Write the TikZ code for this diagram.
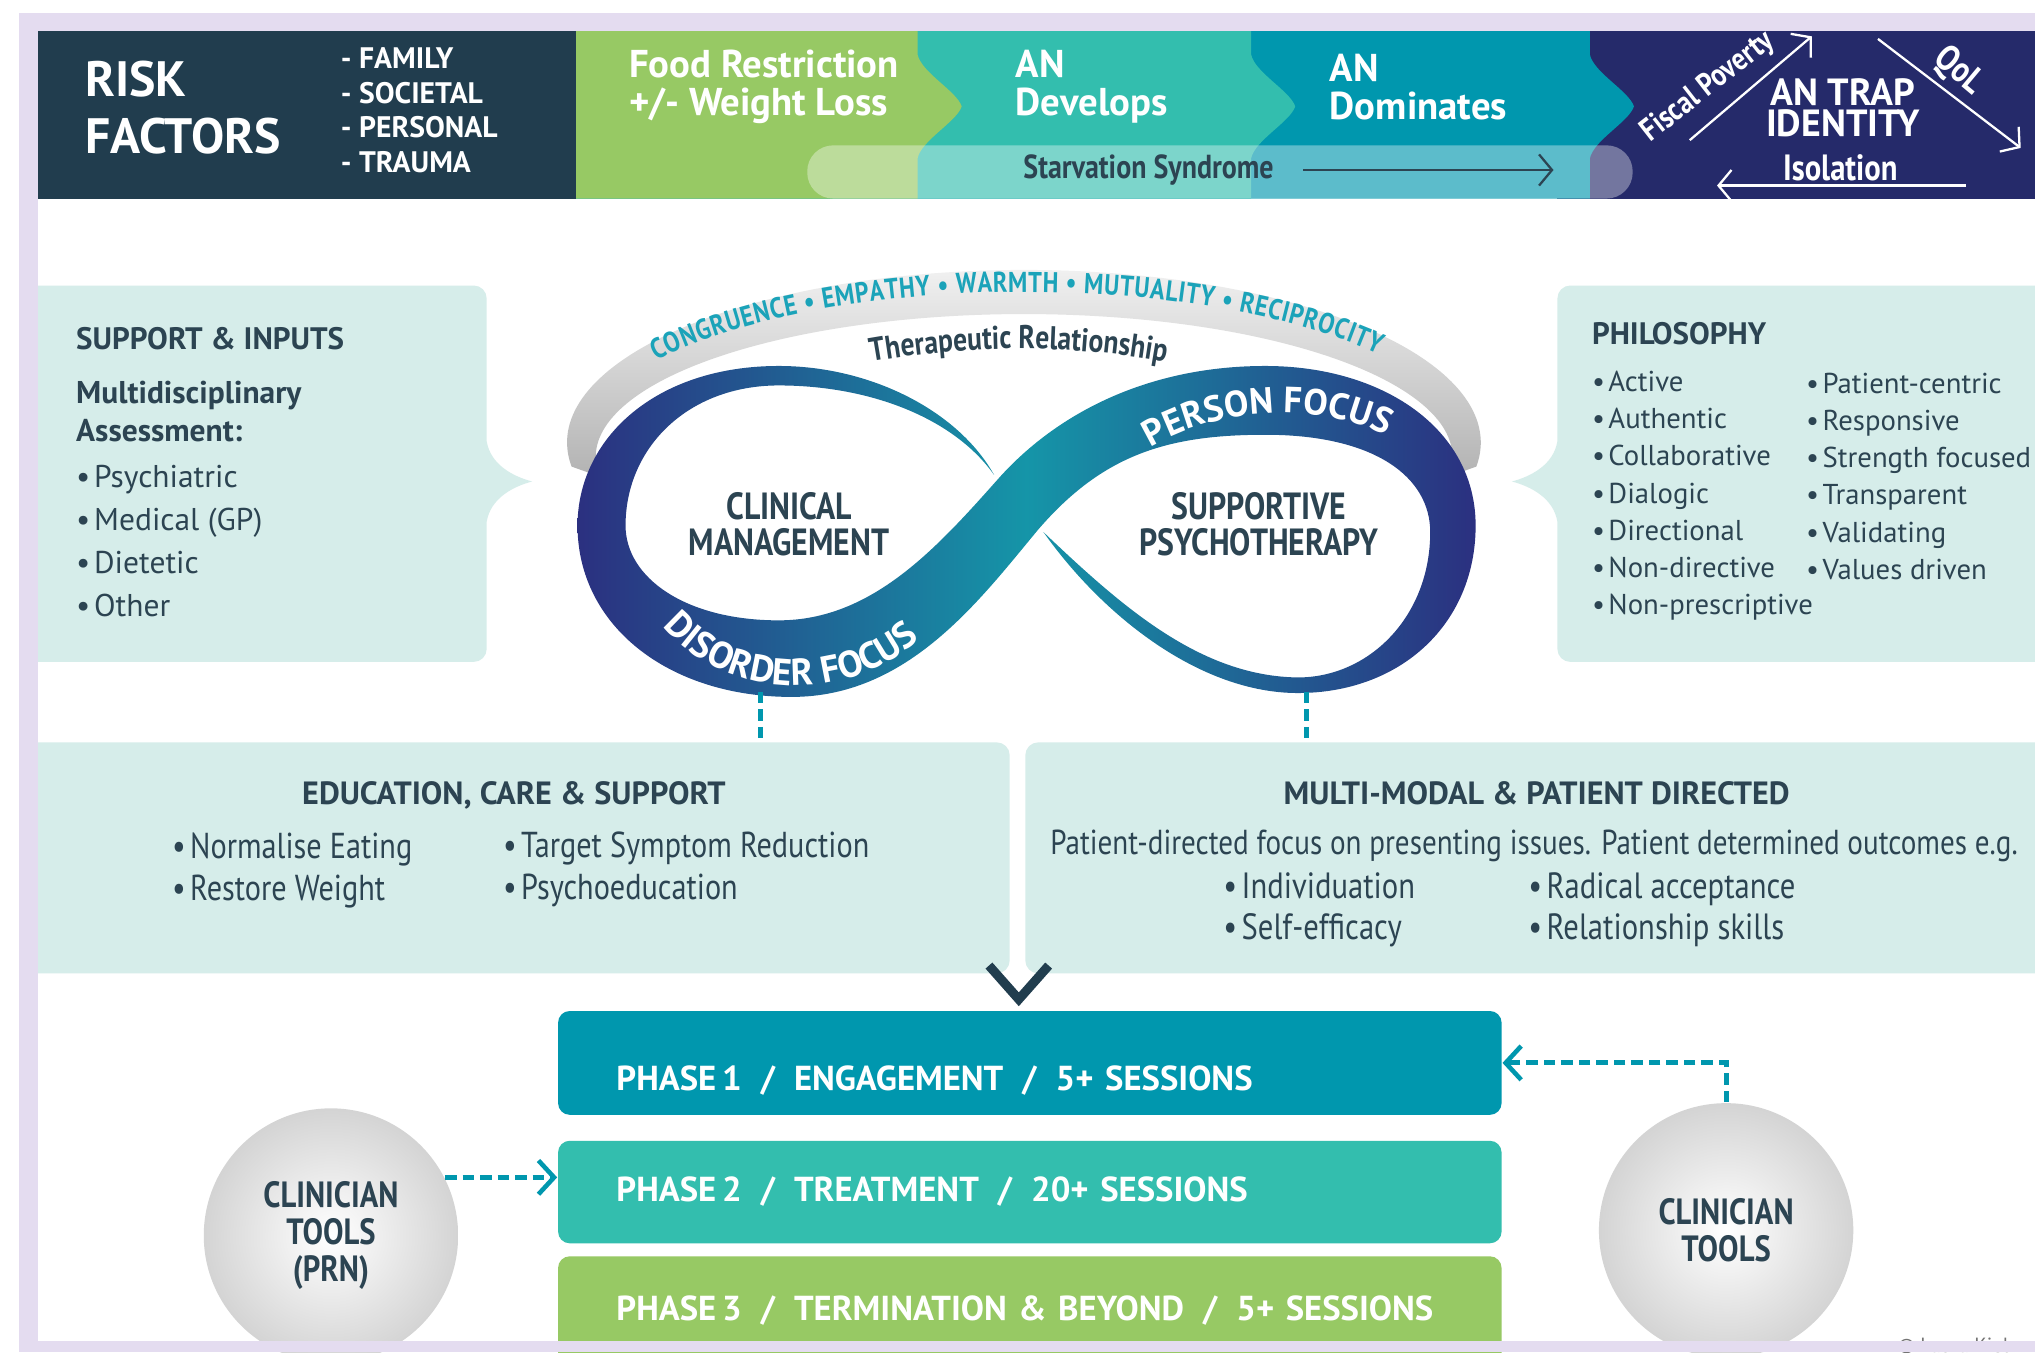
\documentclass[tikz,border=0pt]{standalone}
\usepackage{fontspec}
\setmainfont{PT Sans}
\newfontfamily\condfont[FakeStretch=0.84]{PT Sans}
\usetikzlibrary{arrows.meta,positioning,decorations.text}
\definecolor{FrameLilac}{HTML}{E4DCF0}
\definecolor{RiskNavy}{HTML}{213D4E}
\definecolor{StageGreen}{HTML}{97C964}
\definecolor{StageTeal}{HTML}{33BEAE}
\definecolor{StageCyan}{HTML}{0097AE}
\definecolor{TrapNavy}{HTML}{252A6A}
\definecolor{BoxMint}{HTML}{D6EDEA}
\definecolor{InkDark}{HTML}{2C4452}
\definecolor{ArcTeal}{HTML}{1BA3B9}
\definecolor{LoopNavy}{HTML}{2B3080}
\definecolor{LoopTeal}{HTML}{1595A8}
\newcommand{\fsz}[2]{\fontsize{#1}{#2}\selectfont}
\newcommand{\itm}{\textbullet\hspace{0.12em}}
\newcommand{\sep}{\hspace{0.55em}/\hspace{0.55em}}

\begin{document}
\begin{tikzpicture}[
  x=0.1mm, y=-0.1mm,
  bandtext/.style={text=white, font=\bfseries\fsz{8.5}{8.25}, align=left, anchor=west, inner sep=0pt},
  boxhead/.style={text=InkDark, font=\bfseries\fsz{6.8}{8}, anchor=west, inner sep=0pt},
  boxlist/.style={text=InkDark, align=left, anchor=west, inner sep=0pt},
  mintbox/.style={rectangle, fill=BoxMint, rounded corners=1mm, inner sep=0pt},
  phasebar/.style={rectangle, rounded corners=0.9mm, minimum height=8mm, text width=63.7mm, inner xsep=4.5mm, align=left, text=white, font=\bfseries\fsz{7.6}{9}},
  toolball/.style={circle, minimum size=19.6mm, inner color=white, outer color=black!17, text=InkDark, align=center, font=\condfont\bfseries\fsz{8}{8.1}},
  loopcap/.style={text=InkDark, align=center, inner sep=0pt, font=\condfont\bfseries\fsz{8.3}{8}},
  panelhead/.style={text=InkDark, font=\bfseries\fsz{7.05}{8}, inner sep=0pt},
  barb/.style={-{Straight Barb[length=1mm,width=2.4mm]}},
  tealdash/.style={StageCyan, line width=1.1pt, dash pattern=on 0.9mm off 0.45mm},
  dasharrow/.style={tealdash, -{Straight Barb[length=1.2mm,width=2.6mm,line width=1pt]}}
]
\useasboundingbox (0,0) rectangle (1568,1042);
\fill[white] (0,0) rectangle (1568,1042);

% stage bands, right to left so each chevron lies over the next colour
\fill[TrapNavy] (1200,24) rectangle (1568,153);
\foreach \xr/\col in {1225/StageCyan,964/StageTeal,707/StageGreen}
  \fill[\col] (430,24) -- (\xr,24) -- (\xr,42)
    .. controls (\xr+3,56) and (\xr+30,70) .. (\xr+34,82)
    .. controls (\xr+30,94) and (\xr+3,108) .. (\xr,122) -- (\xr,153) -- (430,153) -- cycle;
\fill[RiskNavy] (29,24) rectangle (444,153);
\fill[white, opacity=0.36, rounded corners=2mm] (622,112) rectangle (1258,153);

\node[bandtext, font=\bfseries\fsz{10.9}{12.5}] (risk) at (65,83) {RISK\\FACTORS};
\node[bandtext, font=\bfseries\fsz{6.5}{7.55}] (riskitems) at (262,85) {- FAMILY\\- SOCIETAL\\- PERSONAL\\- TRAUMA};
\node[bandtext] (food) at (484,67) {Food Restriction\\+/- Weight Loss};
\node[bandtext] (develops) at (782,67) {AN\\Develops};
\node[bandtext] (dominates) at (1024,67) {AN\\Dominates};
\node[text=InkDark, font=\condfont\bfseries\fsz{7.3}{8}, inner sep=0pt] (starve) at (885,131) {Starvation Syndrome};
\coordinate (starvetip) at (1197,131);
\draw[barb, InkDark, line width=0.5pt] ([xshift=2.2mm]starve.east) -- (starvetip);

% the AN trap triangle
\node[bandtext, align=center, anchor=center, font=\bfseries\fsz{8.3}{6.9}] (trap) at (1420,83) {AN TRAP\\IDENTITY};
\node[text=white, font=\condfont\bfseries\fsz{8}{8}, inner sep=0pt] (isolation) at (1418,129) {Isolation};
\node[text=white, font=\condfont\bfseries\fsz{7}{8}, rotate=38, inner sep=0pt] (poverty) at (1316,67) {Fiscal Poverty};
\node[text=white, font=\condfont\bfseries\fsz{8}{8}, rotate=-40, inner sep=0pt] (qol) at (1509,55) {QoL};
\coordinate (povfoot) at (1302,108);
\coordinate (povtip) at (1396,28);
\coordinate (qolfoot) at (1447,30);
\coordinate (qoltip) at (1557,114);
\coordinate (isofoot) at (1515,143);
\coordinate (isotip) at (1323,143);
\draw[barb, white, line width=0.5pt] (povfoot) -- (povtip);
\draw[barb, white, line width=0.5pt] (qolfoot) -- (qoltip);
\draw[barb, white, line width=0.5pt] (isofoot) -- (isotip);

% side panels with pointers
\fill[BoxMint] (15,220) [rounded corners=1mm] -- (375,220) -- (375,300) [sharp corners] -- (375,340)
  .. controls (378,358) and (395,367) .. (410,371) .. controls (395,375) and (378,384) .. (375,402)
  [rounded corners=1mm] -- (375,510) -- (15,510) [sharp corners] -- cycle;
\fill[BoxMint] (1590,220) [rounded corners=1mm] -- (1200,220) -- (1200,300) [sharp corners] -- (1200,340)
  .. controls (1197,358) and (1180,367) .. (1165,371) .. controls (1180,375) and (1197,384) .. (1200,402)
  [rounded corners=1mm] -- (1200,510) -- (1590,510) [sharp corners] -- cycle;

\node[boxhead] (suptitle) at (58,261) {SUPPORT \& INPUTS};
\node[boxlist, font=\bfseries\fsz{6.9}{8.25}] (supsub) at (58,317) {Multidisciplinary\\Assessment:};
\node[boxlist, font=\fsz{6.9}{9.4}] (supitems) at (58,417) {\itm Psychiatric\\\itm Medical (GP)\\\itm Dietetic\\\itm Other};

\node[boxhead] (philtitle) at (1226,257) {PHILOSOPHY};
\node[boxlist, font=\fsz{6.3}{8.17}] (philA) at (1226,382) {\itm Active\\\itm Authentic\\\itm Collaborative\\\itm Dialogic\\\itm Directional\\\itm Non-directive\\\itm Non-prescriptive};
\node[boxlist, font=\fsz{6.3}{8.17}] (philB) at (1391,367) {\itm Patient-centric\\\itm Responsive\\\itm Strength focused\\\itm Transparent\\\itm Validating\\\itm Values driven};

% therapeutic relationship arch
\shade[top color=black!5, bottom color=black!30]
  (440.4,359.5) arc[start angle=188, end angle=-8, x radius=35.2mm, y radius=13.3mm]
  -- (1115.8,367.3) arc[start angle=-8, end angle=188, x radius=33mm, y radius=11mm] -- cycle;
\path[decorate, decoration={text along path, text align=fit to path, text color=ArcTeal,
  text={|\condfont\bfseries\fsz{6.3}{6}|CONGRUENCE • EMPATHY • WARMTH • MUTUALITY • RECIPROCITY}}]
  (505.5,278) arc[start angle=146, end angle=37, x radius=34.2mm, y radius=12mm];
\path[decorate, decoration={text along path, text align=center, text color=InkDark,
  text={|\condfont\bfseries\fsz{7.2}{7}|Therapeutic Relationship}}]
  (650,283) .. controls (740,264) and (830,264) .. (920,283);

% infinity ribbon
\shade[left color=LoopNavy, right color=LoopNavy, middle color=LoopTeal]
  (766,366) .. controls (738,316) and (670,282) .. (600,282)
  .. controls (505,282) and (445,338) .. (445,405)
  .. controls (445,482) and (515,537) .. (610,537)
  .. controls (700,537) and (755,462) .. (800,408)
  .. controls (850,350) and (900,335) .. (975,335)
  .. controls (1060,335) and (1102,368) .. (1102,410)
  .. controls (1102,475) and (1055,522) .. (1000,522)
  .. controls (925,521) and (865,468) .. (804,410)
  .. controls (850,475) and (925,534) .. (1000,534)
  .. controls (1080,534) and (1137,480) .. (1137,405)
  .. controls (1137,330) and (1065,282) .. (975,282)
  .. controls (885,282) and (815,318) .. (770,368)
  .. controls (722,422) and (672,478) .. (600,478)
  .. controls (528,478) and (482,445) .. (482,405)
  .. controls (482,345) and (530,297) .. (600,297)
  .. controls (670,297) and (735,322) .. (766,366) -- cycle;
\path[decorate, decoration={text along path, text align=center, text color=white,
  text={|\bfseries\fsz{8.2}{8}|DISORDER FOCUS}}]
  (480,425) .. controls (515,555) and (690,565) .. (748,440);
\path[decorate, decoration={text along path, text align=center, text color=white,
  text={|\bfseries\fsz{8}{8}|PERSON FOCUS}}]
  (860,365) .. controls (920,307) and (1040,302) .. (1095,355);
\node[loopcap] (clinical) at (608,404) {CLINICAL\\MANAGEMENT};
\node[loopcap] (supportive) at (970,404) {SUPPORTIVE\\PSYCHOTHERAPY};
\coordinate (disfoot) at (586,533);
\coordinate (perfoot) at (1007,533);

% lower panels
\node[mintbox, minimum width=76.3mm, minimum height=17.8mm] (edu) at (396.5,661) {};
\node[mintbox, minimum width=80mm, minimum height=17.8mm] (multi) at (1190,661) {};
\draw[tealdash] (disfoot) -- (disfoot |- edu.north);
\draw[tealdash] (perfoot) -- (perfoot |- multi.north);

\node[panelhead] (edutitle) at (396,613) {EDUCATION, CARE \& SUPPORT};
\node[boxlist, font=\condfont\fsz{7.9}{9.25}] (eduA) at (132,671) {\itm Normalise Eating\\\itm Restore Weight};
\node[boxlist, font=\condfont\fsz{7.9}{9.25}] (eduB) at (387,670) {\itm Target Symptom Reduction\\\itm Psychoeducation};

\node[panelhead] (multititle) at (1184,611) {MULTI-MODAL \& PATIENT DIRECTED};
\node[text=InkDark, font=\condfont\fsz{7.6}{8}, inner sep=0pt] (multitext) at (1182,652) {Patient-directed focus on presenting issues. Patient determined outcomes e.g.};
\node[boxlist, font=\condfont\fsz{8}{9.1}] (multiA) at (942,701) {\itm Individuation\\\itm Self-efficacy};
\node[boxlist, font=\condfont\fsz{8}{9.1}] (multiB) at (1177,701) {\itm Radical acceptance\\\itm Relationship skills};

\draw[RiskNavy, line width=2pt] (762,744) -- (785,770) -- (808,744);

% phases and clinician tools
\node[phasebar, fill=StageCyan] (phase1) at (793.5,819) {\raisebox{-1.2mm}[5.4pt][0pt]{PHASE\,1\sep ENGAGEMENT\sep 5+ SESSIONS}};
\node[phasebar, fill=StageTeal, minimum height=7.9mm] (phase2) at (793.5,918.5) {PHASE\,2\sep TREATMENT\sep 20+ SESSIONS};
\node[phasebar, fill=StageGreen, minimum height=8.4mm] (phase3) at (793.5,1010) {PHASE\,3\sep TERMINATION \& BEYOND\sep 5+ SESSIONS};

\node[toolball] (toolsprn) at (255,952) {CLINICIAN\\TOOLS\\(PRN)};
\node[toolball] (tools) at (1330,948) {CLINICIAN\\TOOLS};
\draw[dasharrow] (toolsprn.27) -- (toolsprn.27 -| phase2.west);
\draw[dasharrow] (tools.north) |- (phase1.east);

\node[text=black!55, font=\fsz{4.5}{5}, anchor=west, inner sep=0pt] (credit) at (1462,1037) {© Laura Kiel};

% lilac frame on top
\fill[FrameLilac] (15,10) rectangle (29,1042);
\fill[FrameLilac] (15,10) rectangle (1568,24);
\fill[FrameLilac] (15,1033) rectangle (1568,1042);
\end{tikzpicture}
\end{document}
